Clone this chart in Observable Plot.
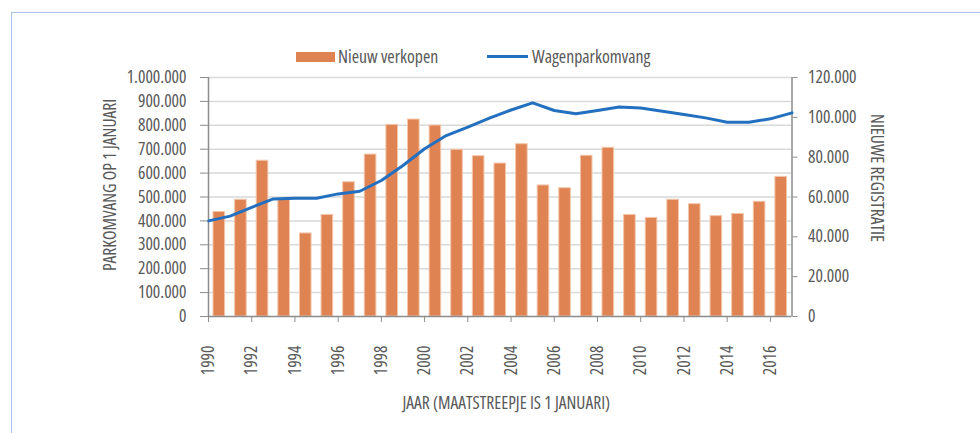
<!DOCTYPE html>
<html>
<head>
<meta charset="utf-8">
<script src="https://cdn.jsdelivr.net/npm/d3@7"></script>
<script src="https://cdn.jsdelivr.net/npm/@observablehq/plot@0.6"></script>
<style>
  html, body { margin: 0; padding: 0; background: #fff; }
  #wrap { position: relative; width: 980px; height: 433px; overflow: hidden;
          font-family: 'Open Sans', 'DejaVu Sans', sans-serif; font-stretch: 75%; color: #595959; }
  #chart svg, #chart svg text { font-stretch: 75%; }
  #frame { position: absolute; left: 11px; top: 12px; width: 1100px; height: 600px; border: 1.5px solid #a9c0e8; box-sizing: border-box; }
  #chart { position: absolute; left: 0; top: 0; }
  .leg { position: absolute; font-size: 17.8px; line-height: 18px; white-space: nowrap; }
  .sw { position: absolute; }
</style>
</head>
<body>
<div id="wrap">
  <div id="frame"></div>
  <div id="chart"></div>
  <div class="sw" style="left:296px;top:52px;width:39px;height:10px;background:#df8353;"></div>
  <div class="leg" id="leg1" style="left:338px;top:47px;"></div>
  <div class="sw" style="left:487px;top:55px;width:41px;height:3px;background:#2270bf;"></div>
  <div class="leg" id="leg2" style="left:532px;top:47px;"></div>
</div>
<script>
// ---- data ----
const years = [1990,1991,1992,1993,1994,1995,1996,1997,1998,1999,2000,2001,2002,2003,2004,2005,2006,2007,2008,2009,2010,2011,2012,2013,2014,2015,2016];
const nieuwVerkopen = [52500,58600,78200,58900,41700,51000,67400,81300,96200,98900,95900,83700,80500,76800,86500,65800,64400,80700,84700,51000,49500,58600,56400,50400,51500,57600,70100];
const lineYears = [1990,1991,1992,1993,1994,1995,1996,1997,1998,1999,2000,2001,2002,2003,2004,2005,2006,2007,2008,2009,2010,2011,2012,2013,2014,2015,2016,2017];
const wagenpark = [400000,420000,457000,492000,495000,495000,513000,524000,569000,632000,702000,757000,792000,830000,864000,894000,862000,848000,862000,877000,872000,859000,845000,831000,813000,813000,827000,852000];
const xTicks = [1990,1992,1994,1996,1998,2000,2002,2004,2006,2008,2010,2012,2014,2016];
const leftTicks = [0,100000,200000,300000,400000,500000,600000,700000,800000,900000,1000000];
const rightTicks = [0,20000,40000,60000,80000,100000,120000];
const seriesNames = ["Nieuw verkopen", "Wagenparkomvang"];
const yLabelLeft = "PARKOMVANG OP 1 JANUARI";
const yLabelRight = "NIEUWE REGISTRATIE";
const xLabel = "JAAR (MAATSTREEPJE IS 1 JANUARI)";

document.getElementById("leg1").textContent = seriesNames[0];
document.getElementById("leg2").textContent = seriesNames[1];

const k = 1000000 / 120000;
const nl = d3.formatLocale({decimal: ",", thousands: ".", grouping: [3], currency: ["", ""]});
const fmt = nl.format(",d");

const bars = years.map((y, i) => ({year: y, v: nieuwVerkopen[i]}));
const line = lineYears.map((y, i) => ({year: y, v: wagenpark[i]}));

const axisGrey = "#8c8c8c";
const txt = "#595959";
const fs = 17.5;

const plot = Plot.plot({
  width: 980,
  height: 433,
  marginLeft: 208,
  marginRight: 188.5,
  marginTop: 77,
  marginBottom: 117,
  style: {fontFamily: "'Open Sans', 'DejaVu Sans', sans-serif", fontSize: fs + "px", color: txt, background: "transparent", overflow: "visible"},
  x: {type: "linear", domain: [1990, 2017]},
  y: {domain: [0, 1000000]},
  marks: [
    Plot.gridY(leftTicks.filter(d => d > 0), {stroke: "#d9d9d9", strokeOpacity: 1, strokeWidth: 1.5}),
    Plot.rectY(bars, {x1: "year", x2: d => d.year + 1, y: d => d.v * k, fill: "#df8353", stroke: "#f3c6aa", strokeWidth: 1, insetLeft: 5, insetRight: 5}),
    Plot.ruleX([1990], {stroke: axisGrey, strokeWidth: 1.5}),
    Plot.ruleX([2017], {stroke: axisGrey, strokeWidth: 1.5}),
    Plot.ruleY([0], {stroke: axisGrey, strokeWidth: 1.5}),
    Plot.lineY(line, {x: "year", y: "v", stroke: "#2270bf", strokeWidth: 3, curve: "linear"}),
    Plot.axisY(leftTicks, {anchor: "left", tickSize: 8, tickPadding: 14, tickFormat: fmt, stroke: axisGrey, fill: txt, label: null, fontSize: fs}),
    Plot.axisY(rightTicks.map(d => d * k), {anchor: "right", tickSize: 5, tickPadding: 11, tickFormat: d => fmt(Math.round(d / k)), stroke: axisGrey, fill: txt, label: null, fontSize: fs}),
    Plot.axisX(xTicks, {anchor: "bottom", tickSize: 6, tickPadding: 23, tickRotate: -90, tickFormat: d => String(d), stroke: axisGrey, fill: txt, label: null, fontSize: fs}),
    Plot.text([yLabelLeft], {frameAnchor: "left", dx: -98, dy: -12, rotate: -90, textAnchor: "middle", fill: txt, fontSize: fs}),
    Plot.text([yLabelRight], {frameAnchor: "right", dx: 84.5, dy: -19, rotate: 90, textAnchor: "middle", fill: txt, fontSize: fs}),
    Plot.text([xLabel], {frameAnchor: "bottom", dx: 6, dy: 92, fill: txt, fontSize: fs})
  ]
});
document.getElementById("chart").appendChild(plot);
</script>
</body>
</html>
